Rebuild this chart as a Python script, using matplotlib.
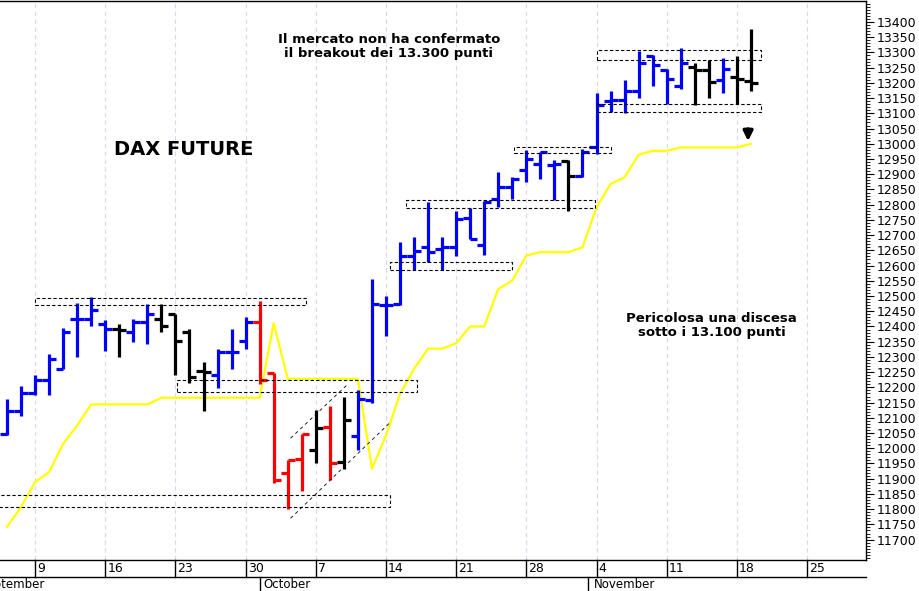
import matplotlib
matplotlib.use('Agg')
import matplotlib.pyplot as plt
from matplotlib.patches import Rectangle
from matplotlib.transforms import blended_transform_factory

# OHLC barre giornaliere (indice = seduta)
opens = [12046, 12121, 12181, 12225, 12261, 12425, 12425, 12409, 12392, 12381,
         12414, 12425, 12441, 12381, 12253, 12239, 12316, 12352, 12414, 12247,
         11919, 11966, 11995, 12070, 11955, 12039, 12160, 12469, 12474, 12633,
         12660, 12655, 12660, 12756, 12666, 12818, 12857, 12914, 12933, 12931,
         12944, 12895, 12988, 13141, 13143, 13174, 13289, 13242, 13190, 13253,
         13242, 13209, 13220, 13206]
highs = [12163, 12203, 12242, 12310, 12394, 12476, 12496, 12420, 12409, 12425,
         12474, 12474, 12441, 12392, 12283, 12327, 12392, 12430, 12485, 12247,
         11963, 12048, 12127, 12138, 12168, 12192, 12557, 12501, 12676, 12693,
         12808, 12693, 12780, 12789, 12813, 12909, 12890, 12979, 12972, 12947,
         12947, 12983, 13168, 13174, 13210, 13305, 13292, 13245, 13313, 13267,
         13274, 13283, 13289, 13376]
lows = [12042, 12105, 12174, 12174, 12261, 12299, 12403, 12319, 12299, 12349,
        12343, 12381, 12242, 12214, 12122, 12199, 12261, 12327, 12210, 11886,
        11799, 11860, 11952, 11897, 11933, 11995, 12148, 12370, 12470, 12584,
        12611, 12586, 12633, 12687, 12636, 12791, 12818, 12876, 12884, 12815,
        12780, 12890, 12966, 13103, 13100, 13152, 13190, 13130, 13179, 13128,
        13150, 13168, 13132, 13172]
closes = [12121, 12181, 12225, 12294, 12381, 12425, 12454, 12392, 12387, 12414,
          12441, 12400, 12352, 12234, 12250, 12316, 12316, 12414, 12223, 11897,
          11963, 12046, 12068, 11952, 12092, 12163, 12475, 12469, 12633, 12649,
          12644, 12660, 12753, 12687, 12808, 12857, 12884, 12950, 12972, 12933,
          12895, 12972, 13128, 13143, 13172, 13267, 13259, 13212, 13267, 13242,
          13204, 13245, 13212, 13201]
bar_colors = (['blue'] * 8 + ['black'] + ['blue'] * 2 + ['black'] * 4 + ['blue'] * 3
              + ['red'] * 4 + ['black', 'red', 'black'] + ['blue'] * 15 + ['black']
              + ['blue'] * 8 + ['black'] * 2 + ['blue'] + ['black'] * 2)

# media (linea gialla)
ma = [11742, 11807, 11889, 11922, 12015, 12075, 12144, 12144, 12144, 12144,
      12144, 12166, 12166, 12166, 12166, 12166, 12166, 12166, 12166, 12411,
      12228, 12228, 12228, 12228, 12228, 12228, 11933, 12042, 12179, 12261,
      12327, 12327, 12345, 12400, 12400, 12523, 12551, 12633, 12644, 12644,
      12644, 12660, 12791, 12868, 12890, 12964, 12977, 12977, 12988, 12988,
      12988, 12988, 12988, 13000]

# zone (x0, x1, y0, y1)
zones = [(2.0, 21.3, 12469, 12494), (-0.6, 27.3, 11807, 11846),
         (12.1, 29.2, 12185, 12223), (27.3, 36.0, 12586, 12611),
         (28.4, 41.9, 12789, 12815), (36.1, 43.0, 12969, 12991),
         (42.0, 53.7, 13274, 13307), (42.0, 53.7, 13103, 13130)]
channel = [((20.2, 27.3), (11770, 12085)), ((20.2, 24.2), (12033, 12207))]

day_ticks = [2, 7, 12, 17, 22, 27, 32, 37, 42, 47, 52, 57]
day_labels = ['9', '16', '23', '30', '7', '14', '21', '28', '4', '11', '18', '25']
months = [(-2.0, 'September'), (18.3, 'October'), (41.8, 'November')]
month_lines = [18.0, 41.4]

fig = plt.figure(figsize=(9.2, 5.91), dpi=100)
ax = fig.add_axes([0.0, 31 / 591, 866 / 920, 559 / 591])
ax.set_xlim(-0.5, 61.2)
ax.set_ylim(11633, 13469)

for x in day_ticks:
    ax.axvline(x, color='#d8d8f4', lw=0.8, ls=(0, (4, 3)), zorder=0)

for i in range(len(opens)):
    c = bar_colors[i]
    ax.plot([i, i], [lows[i], highs[i]], color=c, lw=2.3, solid_capstyle='butt')
    ax.plot([i - 0.5, i], [opens[i], opens[i]], color=c, lw=2.3, solid_capstyle='butt')
    ax.plot([i, i + 0.5], [closes[i], closes[i]], color=c, lw=2.3, solid_capstyle='butt')

ax.plot(range(len(ma)), ma, color='#ffff00', lw=1.6, zorder=1)

for x0, x1, y0, y1 in zones:
    ax.add_patch(Rectangle((x0, y0), x1 - x0, y1 - y0, fill=False, ec='black',
                           lw=0.8, ls=(0, (3, 2)), zorder=3))
for xs, ys in channel:
    ax.plot(xs, ys, color='black', lw=0.6, ls=(0, (4, 4)))

ax.annotate('', xy=(52.8, 13000), xytext=(52.8, 13058),
            arrowprops=dict(arrowstyle='-|>', color='black', lw=2.5, mutation_scale=14))

ax.text(12.6, 12980, 'DAX FUTURE', fontsize=14, fontweight='bold', ha='center', va='center')
ax.text(27.2, 13321, 'Il mercato non ha confermato\nil breakout dei 13.300 punti',
        fontsize=9.5, fontweight='bold', ha='center', va='center', linespacing=1.1)
ax.text(50.2, 12403, 'Pericolosa una discesa\nsotto i 13.100 punti',
        fontsize=9.5, fontweight='bold', ha='center', va='center', linespacing=1.1)

# asse y a destra
ax.yaxis.tick_right()
ax.set_yticks(range(11700, 13401, 50))
ax.set_yticks(range(11640, 13470, 10), minor=True)
ax.tick_params(axis='y', which='major', length=6, labelsize=9, pad=2)
ax.tick_params(axis='y', which='minor', length=3)
ax.set_xticks([])
ax.spines['left'].set_visible(False)
for s in ['top', 'right', 'bottom']:
    ax.spines[s].set_linewidth(1.0)

# etichette giorni e mesi
tr = blended_transform_factory(ax.transData, ax.transAxes)
row = 17 / 559
for x, lab in zip(day_ticks, day_labels):
    ax.plot([x, x], [0, -row], color='black', lw=1, transform=tr, clip_on=False)
    ax.text(x + 0.15, -row / 2, lab, transform=tr, fontsize=9, va='center', ha='left')
ax.plot([-0.5, 61.2], [-row, -row], color='black', lw=1, transform=tr, clip_on=False)
for x in month_lines:
    ax.plot([x, x], [-row, -2.2 * row], color='black', lw=1, transform=tr, clip_on=False)
for x, lab in months:
    ax.text(x, -1.45 * row, lab, transform=tr, fontsize=8.5, va='center', ha='left')

fig.savefig('out.png', dpi=100)
